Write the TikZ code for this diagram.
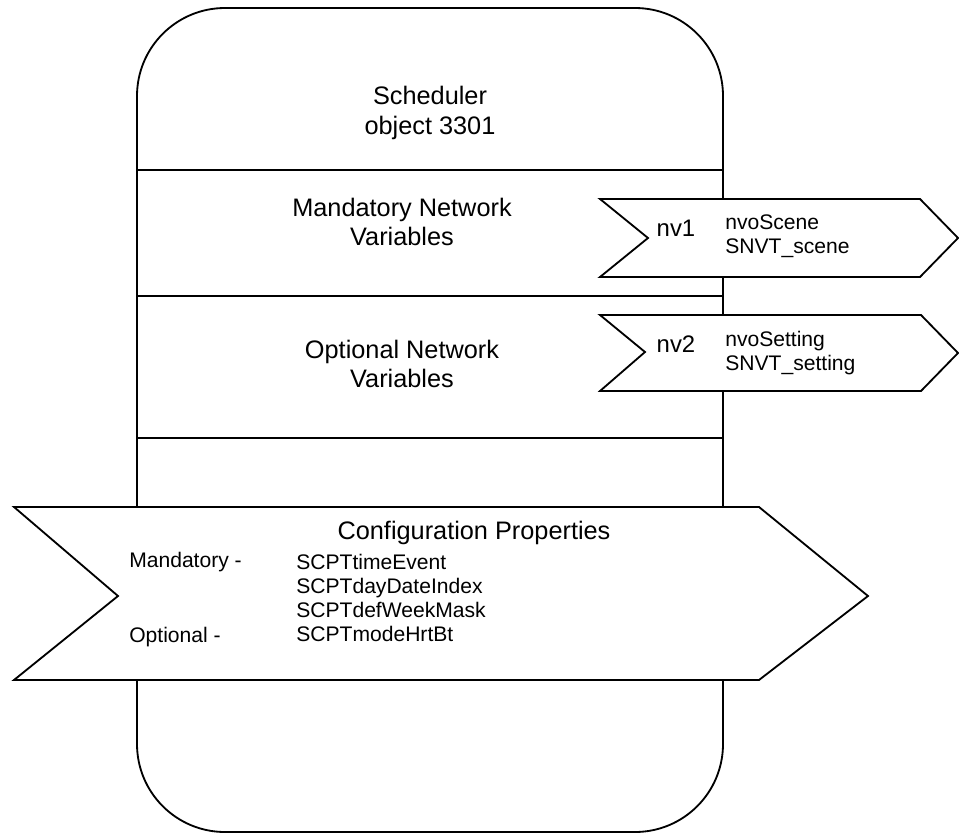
\documentclass[tikz,border=0pt]{standalone}
\usepackage{fontspec}
\setmainfont{Liberation Sans}
\usetikzlibrary{positioning}
\tikzset{
  bigtxt/.style={font=\fontsize{18}{21}\selectfont, align=center, inner sep=0pt},
  nvtxt/.style={font=\fontsize{17}{20}\selectfont, inner sep=0pt},
  smalltxt/.style={font=\fontsize{15}{17}\selectfont, align=left, inner sep=0pt},
  outline/.style={line width=1.3pt, line join=miter},
  tag/.style={outline, fill=white},
}

\begin{document}
\begin{tikzpicture}[x=0.25mm, y=-0.25mm]
            \useasboundingbox (0,0) rectangle (959,834);

            % object body
            \draw[outline, rounded corners=22mm] (137,8) rectangle (723,832);
            \draw[outline] (137,170) -- (723,170);
            \draw[outline] (137,296) -- (723,296);
            \draw[outline] (137,438) -- (723,438);

            \node[bigtxt] (title) at (430,113) {Scheduler\\object 3301};
            \node[bigtxt] (mand) at (402,222) {Mandatory Network\\Variables};
            \node[bigtxt] (opt) at (402,364) {Optional Network\\Variables};

            % nv1
            \draw[tag] (600,199) -- (920,199) -- (958,238) -- (920,277) -- (600,277) -- (648,238) -- cycle;
            \node[nvtxt] (nv1) at (676,228) {nv1};
            \node[smalltxt, anchor=west] (nv1txt) at (725,236) {nvoScene\\SNVT\_scene};

            % nv2
            \draw[tag] (600,315) -- (921,315) -- (958,353) -- (921,391) -- (600,391) -- (645,352) -- cycle;
            \node[nvtxt] (nv2) at (676,344) {nv2};
            \node[smalltxt, anchor=west] (nv2txt) at (725,353) {nvoSetting\\SNVT\_setting};

            % config properties
            \draw[tag] (14,507) -- (759,507) -- (868,596) -- (759,680) -- (14,680) -- (118,596) -- cycle;
            \node[bigtxt] (cfg) at (474,533) {Configuration Properties};
            \node[smalltxt, anchor=west] (cfglist) at (296,598) {SCPTtimeEvent\\SCPTdayDateIndex\\SCPTdefWeekMask\\SCPTmodeHrtBt};
            \node[smalltxt, anchor=west] (mandcp) at (129,562) {Mandatory -};
            \node[smalltxt, anchor=west] (optcp) at (129,637) {Optional -};
        \end{tikzpicture}
\end{document}
